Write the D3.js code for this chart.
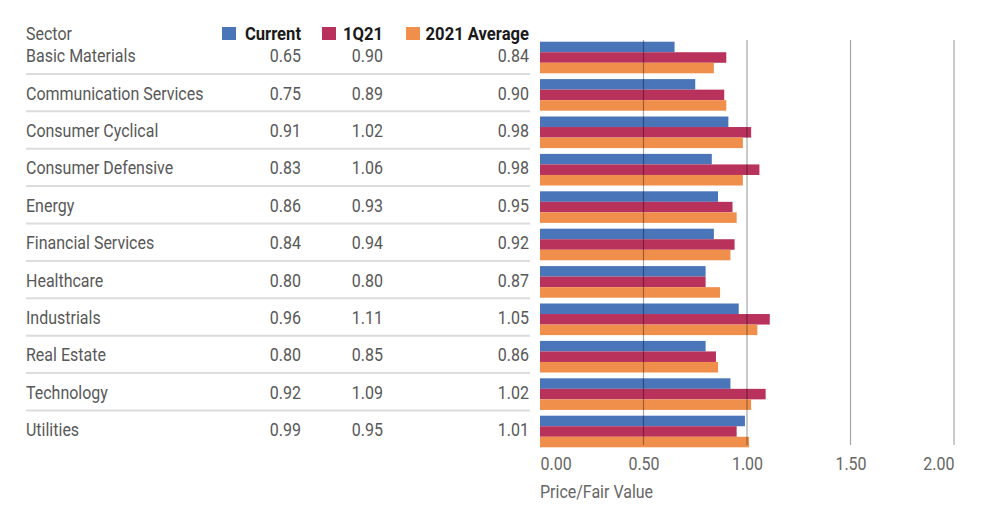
<!DOCTYPE html>
<html>
<head>
<meta charset="utf-8">
<script src="https://cdn.jsdelivr.net/npm/d3@7"></script>
<style>
  body { margin: 0; background: #fff; }
  svg text { font-family: Roboto, "Noto Sans", sans-serif; }
</style>
</head>
<body>
<div id="chart"></div>
<script>
/* CONSTANTS AND GLOBALS */
const width = 992,
  height = 505,
  squeeze = 0.865; // fake a condensed face

// data
const sectors = ["Basic Materials", "Communication Services", "Consumer Cyclical", "Consumer Defensive",
  "Energy", "Financial Services", "Healthcare", "Industrials", "Real Estate", "Technology", "Utilities"];
const current = [0.65, 0.75, 0.91, 0.83, 0.86, 0.84, 0.80, 0.96, 0.80, 0.92, 0.99];
const q121 = [0.90, 0.89, 1.02, 1.06, 0.93, 0.94, 0.80, 1.11, 0.85, 1.09, 0.95];
const avg2021 = [0.84, 0.90, 0.98, 0.98, 0.95, 0.92, 0.87, 1.05, 0.86, 1.02, 1.01];
const seriesNames = ["Current", "1Q21", "2021 Average"];
const xTicks = [0, 0.5, 1, 1.5, 2];

const colors = ["#4a75b9", "#b8325b", "#f08f4b"];
const series = [current, q121, avg2021];

const fmt = d3.format(".2f");

// condensed-looking text: group moved to (x,y) then squeezed horizontally
function label(parent, x, y, sx) {
  return parent.append("g")
    .attr("transform", `translate(${x}, ${y}) scale(${sx}, 1)`)
    .append("text")
    .attr("font-size", 18.5)
    .attr("fill", "#585858");
}

const svg = d3.select("#chart").append("svg")
  .attr("width", width)
  .attr("height", height);

// + SCALES
const step = 37.4;
const pad = 0.155;
const yScale = d3.scaleBand()
  .domain(sectors)
  .range([41.7, 41.7 + step * (sectors.length - pad)])
  .paddingInner(pad)
  .paddingOuter(0);

const ySub = d3.scaleBand()
  .domain(seriesNames)
  .range([0, yScale.bandwidth()]);

const xScale = d3.scaleLinear()
  .domain([0, 2])
  .range([540, 954]);

// table columns (right edges of value columns)
const colX = [301, 383, 529];

// header
label(svg, 26, 40, squeeze).text("Sector");

seriesNames.forEach((name, i) => {
  svg.append("rect")
    .attr("x", [222, 322, 406][i])
    .attr("y", 27)
    .attr("width", 14).attr("height", 13)
    .attr("fill", colors[i]);
  label(svg, colX[i], 40, 0.95)
    .attr("text-anchor", "end")
    .attr("font-size", 17.5)
    .attr("font-weight", "bold")
    .attr("fill", "#1a1a1a")
    .text(name);
});

// + ROWS
const rows = svg.selectAll(".row")
  .data(sectors)
  .join("g")
  .attr("class", "row")
  .attr("transform", d => `translate(0, ${yScale(d)})`);

rows.each(function (d, i) {
  const row = d3.select(this);
  label(row, 26, 20.5, squeeze).text(d);
  series.forEach((vals, j) => {
    label(row, colX[j], 20.5, squeeze)
      .attr("text-anchor", "end")
      .text(fmt(vals[i]));
  });
});

// separators
rows.filter((d, i) => i < sectors.length - 1)
  .append("line")
  .attr("x1", 26).attr("x2", 530)
  .attr("y1", yScale.bandwidth() + 0.6).attr("y2", yScale.bandwidth() + 0.6)
  .attr("stroke", "#dcdcdc")
  .attr("stroke-width", 2);

// + BARS
series.forEach((vals, j) => {
  rows.append("rect")
    .attr("x", xScale(0))
    .attr("y", ySub(seriesNames[j]))
    .attr("height", ySub.bandwidth())
    .attr("width", (d, i) => xScale(vals[i]) - xScale(0))
    .attr("fill", colors[j]);
});

// + GRID (drawn over bars)
svg.selectAll(".grid")
  .data(xTicks.filter(d => d > 0))
  .join("line")
  .attr("class", "grid")
  .attr("x1", d => xScale(d)).attr("x2", d => xScale(d))
  .attr("y1", 40).attr("y2", 445)
  .attr("stroke", "#000")
  .attr("stroke-opacity", 0.35)
  .attr("stroke-width", 1.2);

// + AXIS
const xAxis = d3.axisBottom(xScale)
  .tickValues(xTicks)
  .tickFormat(fmt)
  .tickSize(0)
  .tickPadding(0);

const xAxisGroup = svg.append("g")
  .attr("class", "xAxis")
  .attr("transform", `translate(0, 455)`)
  .call(xAxis);

xAxisGroup.select(".domain").remove();
xAxisGroup.selectAll(".tick text")
  .attr("transform", `scale(${squeeze}, 1)`)
  .attr("font-size", 18.5)
  .attr("fill", "#666")
  .attr("dy", "0.8em")
  .attr("text-anchor", (d, i) => i === 0 ? "start" : (i === xTicks.length - 1 ? "end" : "middle"));

label(svg, 540, 498, squeeze)
  .attr("fill", "#666")
  .text("Price/Fair Value");
</script>
</body>
</html>
